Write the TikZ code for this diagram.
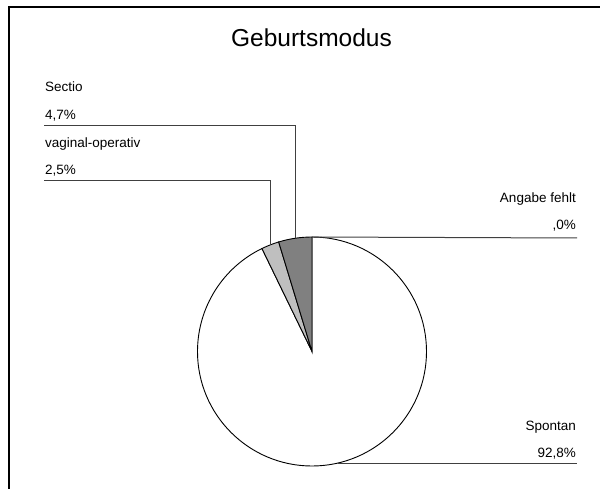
\documentclass[tikz,border=0pt]{standalone}
\usepackage{fontspec}
\setmainfont{Liberation Sans}
\usetikzlibrary{calc}
\begin{document}
\begin{tikzpicture}[x=1pt,y=1pt,
  lbl/.style={inner sep=0pt,font=\fontsize{13.5}{16}\selectfont},
  lead/.style={draw=black!75,line width=1pt},
  slice/.style={draw=black,line width=0.9pt}]
\useasboundingbox (0,0) rectangle (600,488);
% frame (only top and left visible)
\draw[line width=1.3pt] (9,-5) -- (9,481) -- (605,481);
% title
\node[inner sep=0pt,anchor=base,font=\fontsize{24.5}{30}\selectfont] (title) at (311.5,441) {Geburtsmodus};
% pie
\def\R{114.5}
\coordinate (c) at (312,136.5);
\filldraw[slice,fill=white] (c) -- ++(90:\R) arc[start angle=90,end angle=-244.08,radius=\R] -- cycle;
\filldraw[slice,fill=black!25] (c) -- ++(115.92:\R) arc[start angle=115.92,end angle=106.92,radius=\R] -- cycle;
\filldraw[slice,fill=black!50] (c) -- ++(106.92:\R) arc[start angle=106.92,end angle=90,radius=\R] -- cycle;
% leader anchor points on arc
\coordinate (pSec) at ($(c)+(98.46:\R)$);
\coordinate (pVag) at ($(c)+(111.42:\R)$);
\coordinate (pAng) at ($(c)+(90:\R)$);
\coordinate (pSpo) at ($(c)+(-77.04:\R)$);
% leader ends
\coordinate (eSecCorner) at (pSec |- 0,362);
\coordinate (eSec) at (44,362);
\coordinate (eVagCorner) at (pVag |- 0,307);
\coordinate (eVag) at (44,307);
\coordinate (eAng) at (577,250);
\coordinate (eSpo) at (577,25);
\draw[lead] (pSec) -- (eSecCorner) -- (eSec);
\draw[lead] (pVag) -- (eVagCorner) -- (eVag);
\draw[lead] (pAng) -- (eAng);
\draw[lead] (pSpo) -- (pSpo -| eSpo);
% labels
\node[lbl,anchor=base west] (secN) at (45,396) {Sectio};
\node[lbl,anchor=base west] (secV) at (45,368) {4,7\%};
\node[lbl,anchor=base west] (vagN) at (45,340) {vaginal-operativ};
\node[lbl,anchor=base west] (vagV) at (45,313) {2,5\%};
\node[lbl,anchor=base east] (angN) at (576,285) {Angabe fehlt};
\node[lbl,anchor=base east] (angV) at (576,258) {,0\%};
\node[lbl,anchor=base east] (spoN) at (576,58) {Spontan};
\node[lbl,anchor=base east] (spoV) at (576,31) {92,8\%};
\end{tikzpicture}
\end{document}
